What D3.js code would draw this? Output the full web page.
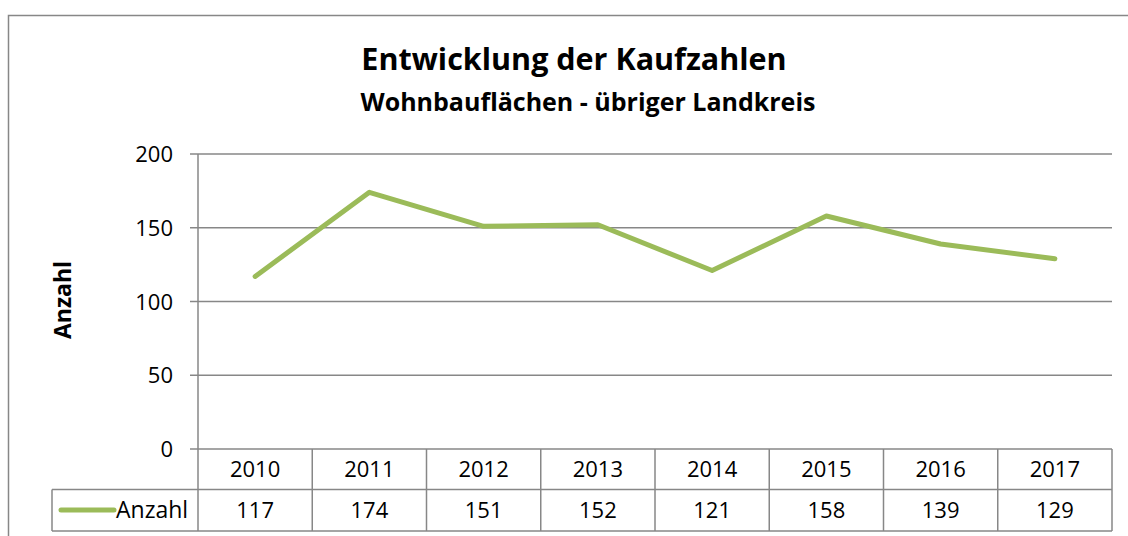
<!DOCTYPE html>
<html>
<head>
<meta charset="utf-8">
<script src="https://cdn.jsdelivr.net/npm/d3@7"></script>
<style>
  body { margin: 0; background: #fff; }
  text { font-family: "Open Sans", Lato, sans-serif; fill: #000; }
</style>
</head>
<body>
<svg id="chart" width="1128" height="536"></svg>
<script>
var years = ["2010", "2011", "2012", "2013", "2014", "2015", "2016", "2017"];
var anzahl = [117, 174, 151, 152, 121, 158, 139, 129];
var yTicks = [0, 50, 100, 150, 200];
var seriesName = "Anzahl";

var lineColor = "#9bbb59";
var gridColor = "#878787";

var svg = d3.select("#chart");

var plotLeft = 198, plotRight = 1112, plotTop = 154, plotBottom = 449;
var row1 = 489.5, row2 = 531, legendLeft = 52;

var x = d3.scaleBand().domain(years).range([plotLeft, plotRight]);
var y = d3.scaleLinear().domain([0, 200]).range([plotBottom, plotTop]);

// outer chart frame
svg.append("rect")
  .attr("x", 8.5).attr("y", 15.5)
  .attr("width", 1140).attr("height", 540)
  .attr("fill", "none")
  .attr("stroke", gridColor)
  .attr("stroke-width", 1.5);

// titles
svg.append("text")
  .attr("x", 574).attr("y", 70)
  .attr("text-anchor", "middle")
  .style("font-size", "30.5px").style("font-weight", "bold")
  .text("Entwicklung der Kaufzahlen");

svg.append("text")
  .attr("x", 588).attr("y", 111)
  .attr("text-anchor", "middle")
  .style("font-size", "25px").style("font-weight", "bold")
  .text("Wohnbauflächen - übriger Landkreis");

// gridlines + ticks
svg.append("g").selectAll("line")
  .data(yTicks)
  .enter()
  .append("line")
  .attr("x1", plotLeft - 8).attr("x2", plotRight)
  .attr("y1", d => y(d)).attr("y2", d => y(d))
  .attr("stroke", gridColor)
  .attr("stroke-width", 1.5);

svg.append("g").selectAll("text")
  .data(yTicks)
  .enter()
  .append("text")
  .attr("x", 173)
  .attr("y", d => y(d) + 8)
  .attr("text-anchor", "end")
  .style("font-size", "22px")
  .text(d => d);

// y axis title
svg.append("text")
  .attr("transform", "translate(71,300) rotate(-90)")
  .attr("text-anchor", "middle")
  .style("font-size", "23px").style("font-weight", "bold")
  .text("Anzahl");

// data table
var table = svg.append("g").attr("stroke", gridColor).attr("stroke-width", 1.5);

table.append("line")
  .attr("x1", plotLeft).attr("x2", plotLeft)
  .attr("y1", plotTop).attr("y2", row2);

table.selectAll(".vline")
  .data(years)
  .enter()
  .append("line")
  .attr("class", "vline")
  .attr("x1", d => x(d) + x.bandwidth()).attr("x2", d => x(d) + x.bandwidth())
  .attr("y1", plotBottom).attr("y2", row2);

table.append("line")
  .attr("x1", legendLeft).attr("x2", legendLeft)
  .attr("y1", row1).attr("y2", row2);

table.selectAll(".hline")
  .data([row1, row2])
  .enter()
  .append("line")
  .attr("class", "hline")
  .attr("x1", legendLeft).attr("x2", plotRight)
  .attr("y1", d => d).attr("y2", d => d);

svg.append("g").selectAll("text")
  .data(years)
  .enter()
  .append("text")
  .attr("x", d => x(d) + x.bandwidth() / 2)
  .attr("y", 477)
  .attr("text-anchor", "middle")
  .style("font-size", "22px")
  .text(d => d);

svg.append("g").selectAll("text")
  .data(anzahl)
  .enter()
  .append("text")
  .attr("x", (d, i) => x(years[i]) + x.bandwidth() / 2)
  .attr("y", 518)
  .attr("text-anchor", "middle")
  .style("font-size", "22px")
  .text(d => d);

// legend key in table
svg.append("line")
  .attr("x1", 61).attr("x2", 114)
  .attr("y1", 510).attr("y2", 510)
  .attr("stroke", lineColor)
  .attr("stroke-width", 5)
  .attr("stroke-linecap", "round");

svg.append("text")
  .attr("x", 116).attr("y", 518)
  .style("font-size", "23px")
  .text(seriesName);

// series line
var line = d3.line()
  .x((d, i) => x(years[i]) + x.bandwidth() / 2)
  .y(d => y(d));

svg.append("path")
  .datum(anzahl)
  .attr("d", line)
  .attr("fill", "none")
  .attr("stroke", lineColor)
  .attr("stroke-width", 5)
  .attr("stroke-linecap", "round")
  .attr("stroke-linejoin", "round");
</script>
</body>
</html>
